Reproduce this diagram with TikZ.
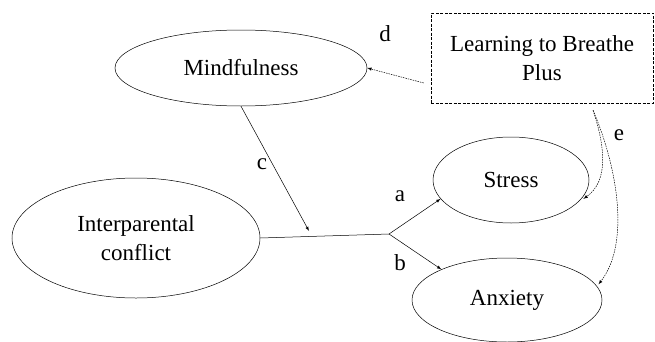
\documentclass[tikz,border=0pt]{standalone}
\usepackage{fontspec}
\setmainfont{Liberation Serif}
\newfontfamily\tnr{Liberation Serif}
\usepackage{tikz}
\usetikzlibrary{arrows,calc,arrows.meta,positioning,shapes.geometric}

\begin{document}
\begin{tikzpicture}[>=latex, x=1pt, y=1pt,
        var/.style={ellipse, draw, line width=0.5pt, inner sep=0pt, align=center},
        pgm/.style={draw, dash pattern=on 3pt off 1.5pt, line width=0.5pt, minimum width=222pt, minimum height=90pt, align=center},
        path/.style={->, line width=0.5pt},
        effect/.style={->, line width=0.5pt, dash pattern=on 1.5pt off 1pt},
        every node/.style={font=\tnr\fontsize{23}{29}\selectfont}]
        \useasboundingbox (0,0) rectangle (655,341);
        \node[var, minimum width=252pt, minimum height=76pt] (Mind) at (241, 273) {Mindfulness};
        \node[pgm] (LTB) at (542, 283) {Learning to Breathe\\Plus};
        \node[var, minimum width=248pt, minimum height=120pt] (IPC) at (136, 103) {Interparental\\conflict};
        \node[var, minimum width=156pt, minimum height=86pt] (Stress) at (511, 161) {Stress};
        \node[var, minimum width=190pt, minimum height=84pt] (Anx) at (507, 41) {Anxiety};

        \coordinate (J) at (389, 107);
        \coordinate (M) at (309, 110);
        \draw[line width=0.5pt] (IPC.east) -- (J);
        \draw[path] (J) -- (Stress.195);
        \draw[path] (J) -- (Anx.155);
        \draw[path] (Mind.south) -- (M);
        \draw[effect] ([xshift=-7pt, yshift=-25pt]LTB.west) -- (Mind.east);
        \draw[effect] ([xshift=51pt, yshift=-7pt]LTB.south) .. controls (605, 195) and (609, 160) .. ([xshift=2pt]Stress.-15);
        \draw[effect] ([xshift=51pt, yshift=-7pt]LTB.south) .. controls (615, 180) and (632, 100) .. ([xshift=3pt]Anx.10);

        \node (a) at (400, 145) {a};
        \node (b) at (400, 78) {b};
        \node (c) at (262, 177) {c};
        \node (d) at (385, 307) {d};
        \node (e) at (619, 206) {e};
    \end{tikzpicture}
\end{document}
